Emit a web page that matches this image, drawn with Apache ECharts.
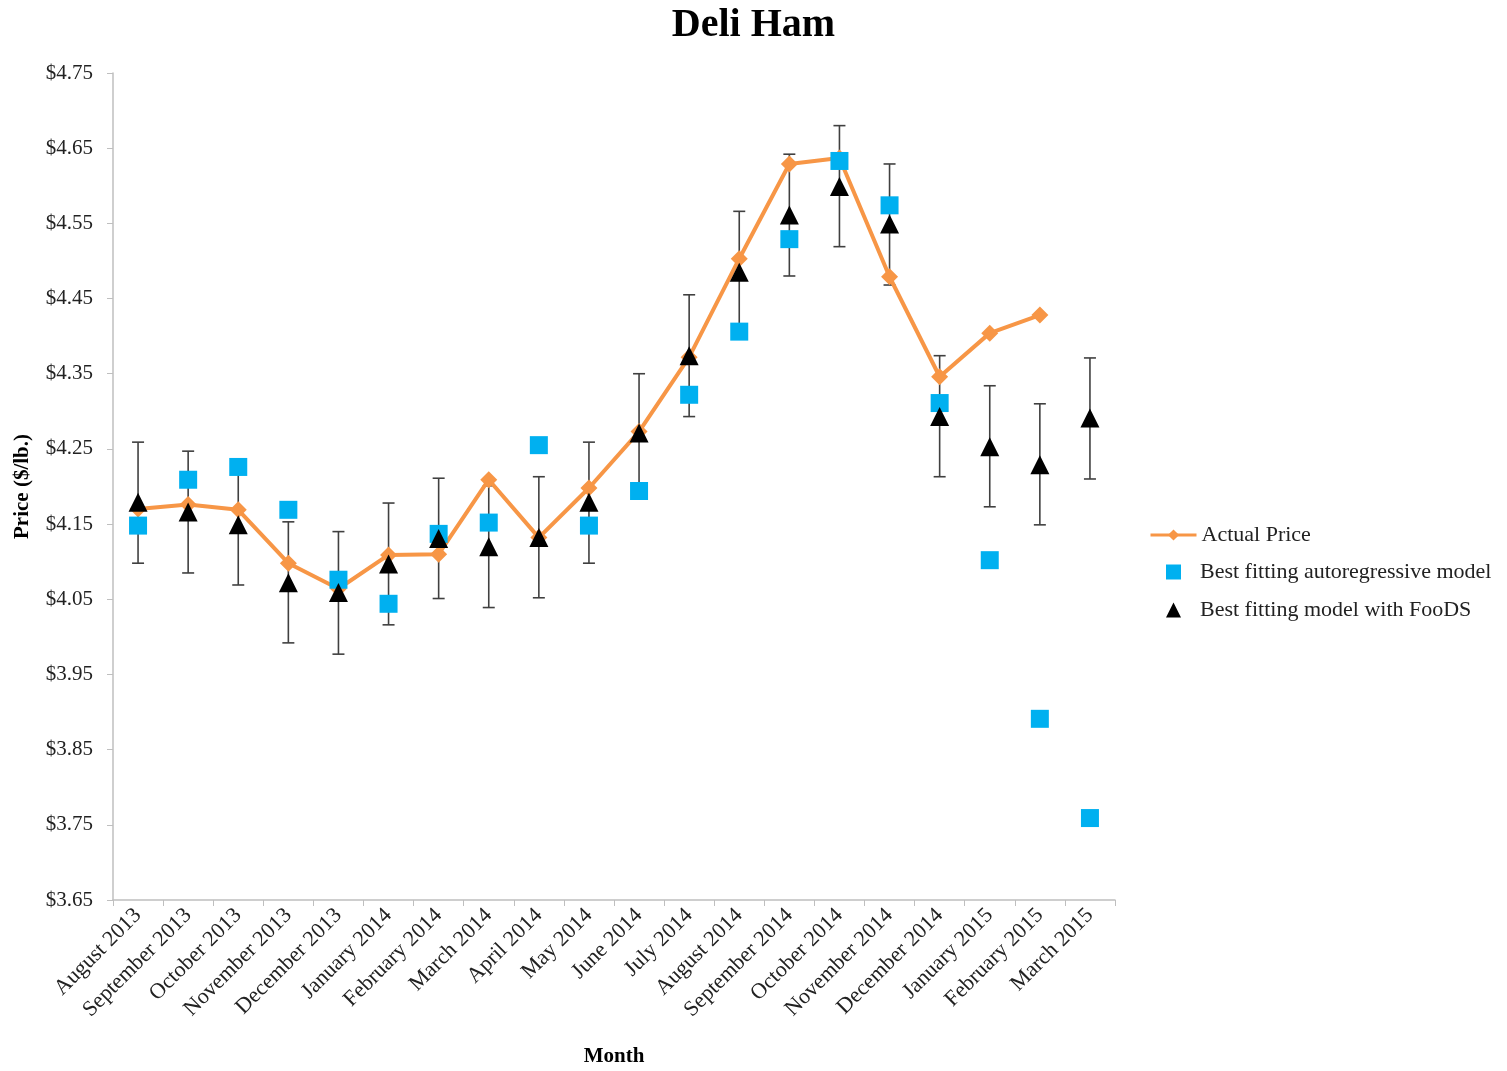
<!DOCTYPE html>
<html>
<head>
<meta charset="utf-8">
<title>Deli Ham</title>
<script src="https://cdn.jsdelivr.net/npm/echarts@6/dist/echarts.min.js"></script>
<style>
  html, body { margin: 0; padding: 0; background: #fff; }
  #chart { width: 1507px; height: 1071px; }
</style>
</head>
<body>
<div id="chart"></div>
<script>
// Monthly categories
const months = [
  'August 2013', 'September 2013', 'October 2013', 'November 2013', 'December 2013',
  'January 2014', 'February 2014', 'March 2014', 'April 2014', 'May 2014',
  'June 2014', 'July 2014', 'August 2014', 'September 2014', 'October 2014',
  'November 2014', 'December 2014', 'January 2015', 'February 2015', 'March 2015'
];

// Actual deli ham price ($/lb.), no observation for March 2015
const actualPrice = [
  4.17, 4.176, 4.169, 4.098, 4.064, 4.109, 4.11, 4.209, 4.132, 4.198,
  4.273, 4.372, 4.503, 4.629, 4.637, 4.479, 4.346, 4.404, 4.428, null
];

// Forecasts from the best fitting autoregressive model
const autoregressive = [
  4.148, 4.209, 4.226, 4.169, 4.076, 4.044, 4.137, 4.152, 4.255, 4.148,
  4.194, 4.322, 4.406, 4.529, 4.633, 4.574, 4.311, 4.102, 3.891, 3.759
];

// Forecasts from the best fitting model with FooDS
const foodsModel = [
  4.179, 4.166, 4.149, 4.072, 4.059, 4.097, 4.131, 4.12, 4.132, 4.179,
  4.271, 4.374, 4.485, 4.561, 4.599, 4.549, 4.293, 4.253, 4.229, 4.291
];

// Interval bounds around the FooDS model forecasts
const foodsLow = [
  4.098, 4.085, 4.069, 3.992, 3.977, 4.016, 4.051, 4.039, 4.052, 4.098,
  4.193, 4.293, 4.404, 4.48, 4.519, 4.468, 4.213, 4.173, 4.149, 4.21
];
const foodsHigh = [
  4.259, 4.247, 4.229, 4.153, 4.14, 4.178, 4.211, 4.201, 4.213, 4.259,
  4.35, 4.455, 4.566, 4.642, 4.68, 4.629, 4.374, 4.334, 4.31, 4.371
];

const serif = '"Liberation Serif", "DejaVu Serif", serif';
const orange = '#F79646';
const blue = '#00B0F0';
const axisGray = '#BFBFBF';

const errorData = months.map((m, i) => [i, foodsLow[i], foodsHigh[i]]);

const legendText = { fontFamily: serif, fontSize: 22, color: '#222' };

const chart = echarts.init(document.getElementById('chart'), null, { renderer: 'canvas' });

chart.setOption({
  animation: false,
  backgroundColor: '#ffffff',
  title: {
    text: 'Deli Ham',
    left: 'center',
    top: 1,
    textStyle: { fontFamily: serif, fontSize: 40, fontWeight: 'bold', color: '#000' }
  },
  grid: { left: 113, right: 392, top: 73, bottom: 171, containLabel: false, outerBoundsMode: 'none' },
  legend: [
    {
      // line entry: orange line with diamond marker
      orient: 'vertical',
      left: 1144,
      top: 519,
      itemWidth: 46,
      itemHeight: 14,
      lineStyle: { width: 3 },
      textStyle: legendText,
      data: ['Actual Price']
    },
    {
      // marker entries: square and triangle
      orient: 'vertical',
      left: 1161,
      top: 556,
      itemGap: 16,
      itemWidth: 15,
      itemHeight: 15,
      textStyle: Object.assign({ padding: [0, 0, 0, 14] }, legendText),
      data: [
        { name: 'Best fitting autoregressive model', icon: 'rect' },
        { name: 'Best fitting model with FooDS', icon: 'triangle' }
      ]
    }
  ],
  xAxis: {
    type: 'category',
    data: months,
    boundaryGap: true,
    name: 'Month',
    nameLocation: 'middle',
    nameGap: 146,
    nameTextStyle: { fontFamily: serif, fontSize: 21, fontWeight: 'bold', color: '#000' },
    axisLine: { lineStyle: { color: axisGray, width: 1.5 } },
    axisTick: { show: true, alignWithLabel: false, length: 6, lineStyle: { color: axisGray } },
    axisLabel: {
      rotate: 45,
      interval: 0,
      margin: 12,
      fontFamily: serif,
      fontSize: 22,
      color: '#222'
    },
    splitLine: { show: false }
  },
  yAxis: {
    type: 'value',
    min: 3.65,
    max: 4.75,
    interval: 0.1,
    name: 'Price ($/lb.)',
    nameLocation: 'middle',
    nameGap: 80,
    nameRotate: 90,
    nameTextStyle: { fontFamily: serif, fontSize: 21, fontWeight: 'bold', color: '#000' },
    axisLine: { show: true, lineStyle: { color: axisGray, width: 1.5 } },
    axisTick: { show: true, length: 6, lineStyle: { color: axisGray } },
    axisLabel: {
      margin: 20,
      fontFamily: serif,
      fontSize: 21,
      color: '#222',
      formatter: v => '$' + v.toFixed(2)
    },
    splitLine: { show: false }
  },
  series: [
    {
      name: 'FooDS interval',
      type: 'custom',
      z: 1,
      data: errorData,
      encode: { x: 0, y: [1, 2] },
      renderItem: function (params, api) {
        const x = api.value(0);
        const lo = api.coord([x, api.value(1)]);
        const hi = api.coord([x, api.value(2)]);
        const cap = 6;
        const style = { stroke: '#404040', lineWidth: 1.6 };
        return {
          type: 'group',
          children: [
            { type: 'line', shape: { x1: lo[0], y1: lo[1], x2: hi[0], y2: hi[1] }, style: style },
            { type: 'line', shape: { x1: lo[0] - cap, y1: lo[1], x2: lo[0] + cap, y2: lo[1] }, style: style },
            { type: 'line', shape: { x1: hi[0] - cap, y1: hi[1], x2: hi[0] + cap, y2: hi[1] }, style: style }
          ]
        };
      }
    },
    {
      name: 'Actual Price',
      type: 'line',
      z: 2,
      data: actualPrice,
      symbol: 'diamond',
      symbolSize: 17,
      showAllSymbol: true,
      connectNulls: false,
      lineStyle: { color: orange, width: 4 },
      itemStyle: { color: orange }
    },
    {
      name: 'Best fitting autoregressive model',
      type: 'scatter',
      z: 3,
      data: autoregressive,
      symbol: 'rect',
      symbolSize: 18,
      itemStyle: { color: blue, opacity: 1 }
    },
    {
      name: 'Best fitting model with FooDS',
      type: 'scatter',
      z: 4,
      data: foodsModel,
      symbol: 'triangle',
      symbolSize: [19, 19],
      itemStyle: { color: '#000', opacity: 1 }
    }
  ]
});
</script>
</body>
</html>
